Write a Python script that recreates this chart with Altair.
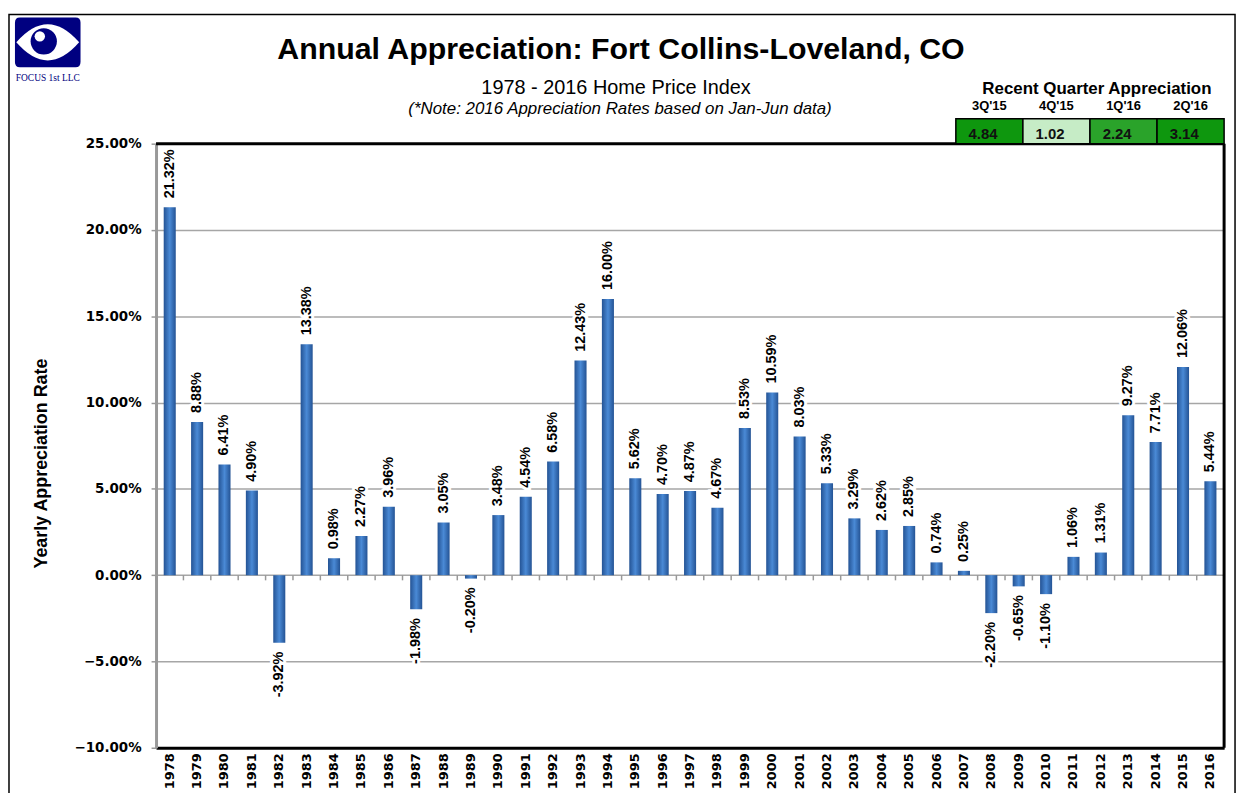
import altair as alt
import pandas as pd

# ---------------- data ----------------
years = ["1978", "1979", "1980", "1981", "1982", "1983", "1984", "1985", "1986", "1987",
         "1988", "1989", "1990", "1991", "1992", "1993", "1994", "1995", "1996", "1997",
         "1998", "1999", "2000", "2001", "2002", "2003", "2004", "2005", "2006", "2007",
         "2008", "2009", "2010", "2011", "2012", "2013", "2014", "2015", "2016"]
bar_values = [21.32, 8.88, 6.41, 4.90, -3.92, 13.38, 0.98, 2.27, 3.96, -1.98,
              3.05, -0.20, 3.48, 4.54, 6.58, 12.43, 16.00, 5.62, 4.70, 4.87,
              3.91, 8.53, 10.59, 8.03, 5.33, 3.29, 2.62, 2.85, 0.74, 0.25,
              -2.20, -0.65, -1.10, 1.06, 1.31, 9.27, 7.71, 12.06, 5.44]
bar_labels = ["21.32%", "8.88%", "6.41%", "4.90%", "-3.92%", "13.38%", "0.98%", "2.27%", "3.96%", "-1.98%",
              "3.05%", "-0.20%", "3.48%", "4.54%", "6.58%", "12.43%", "16.00%", "5.62%", "4.70%", "4.87%",
              "4.67%", "8.53%", "10.59%", "8.03%", "5.33%", "3.29%", "2.62%", "2.85%", "0.74%", "0.25%",
              "-2.20%", "-0.65%", "-1.10%", "1.06%", "1.31%", "9.27%", "7.71%", "12.06%", "5.44%"]
y_ticks = [-10, -5, 0, 5, 10, 15, 20, 25]

quarters = ["3Q'15", "4Q'15", "1Q'16", "2Q'16"]
quarter_values = [4.84, 1.02, 2.24, 3.14]

TITLE = "Annual Appreciation: Fort Collins-Loveland, CO"
SUBTITLE = "1978 - 2016 Home Price Index"
NOTE = "(*Note: 2016 Appreciation Rates based on Jan-Jun data)"
Y_TITLE = "Yearly Appreciation Rate"
TABLE_TITLE = "Recent Quarter Appreciation"
LOGO_TEXT = "FOCUS 1st LLC"

# ---------------- styles ----------------
quarter_colors = ["#0e970e", "#c6ecc6", "#2aa32a", "#0e970e"]
W, H = 1075, 608
STEP = W / 39.0
NAVY = "#000080"
FONT = "Liberation Sans"
AXFONT = "DejaVu Sans"

df = pd.DataFrame({"year": years, "value": bar_values, "label": bar_labels})
qdf = pd.DataFrame({"quarter": quarters, "value": quarter_values})
one = pd.DataFrame({"a": [0]})

bar_fill = alt.LinearGradient(
    gradient="linear", x1=0, x2=1, y1=0, y2=0,
    stops=[alt.GradientStop(offset=0, color="#245394"),
           alt.GradientStop(offset=0.5, color="#4a8ad6"),
           alt.GradientStop(offset=1, color="#245394")])

x_main = alt.X("year:O", sort=years,
               scale=alt.Scale(paddingInner=0.56, paddingOuter=0.28),
               axis=alt.Axis(orient="bottom", title=None, labelAngle=270,
                             labelFont=AXFONT, labelFontWeight="bold", labelFontSize=13,
                             labelColor="black", labelPadding=5, ticks=False,
                             domain=True, domainColor="black", domainWidth=3, grid=False))
x_plain = alt.X("year:O", sort=years)

y_main = alt.Y("value:Q", scale=alt.Scale(domain=[-10, 25], nice=False),
               axis=alt.Axis(title=None, values=y_ticks,
                             labelExpr="format(datum.value, '.2f') + '%'",
                             labelFont=AXFONT, labelFontWeight="bold", labelFontSize=13.5,
                             labelColor="black", labelPadding=10,
                             tickSize=5, tickColor="#999999", tickWidth=1.5,
                             domainColor="#999999", domainWidth=3,
                             grid=True, gridColor="#a6a6a6", gridWidth=1.5))

bars = alt.Chart(df).mark_bar(color=bar_fill).encode(x=x_main, y=y_main)

# small ticks hanging below the zero line, between the bars
zero_ticks = alt.Chart(df).mark_rule(
    color="#999999", strokeWidth=1.5, xOffset=-STEP / 2).encode(
    x=x_plain, y=alt.datum(0), y2=alt.datum(-0.3))

top_rule = alt.Chart(one).mark_rule(color="black", strokeWidth=3).encode(
    x=alt.value(0), x2=alt.value(W), y=alt.value(0))
right_rule = alt.Chart(one).mark_rule(color="black", strokeWidth=3).encode(
    x=alt.value(W), y=alt.value(0), y2=alt.value(H))

lab_style = dict(angle=270, baseline="middle", font=FONT, fontWeight="bold", fontSize=14.5)
pos_halo = alt.Chart(df).transform_filter("datum.value >= 0").mark_text(
    align="left", dx=9, color="white", stroke="white", strokeWidth=6, **lab_style).encode(
    x=x_plain, y="value:Q", text="label:N")
neg_halo = alt.Chart(df).transform_filter("datum.value < 0").mark_text(
    align="right", dx=-9, color="white", stroke="white", strokeWidth=6, **lab_style).encode(
    x=x_plain, y="value:Q", text="label:N")
pos_text = alt.Chart(df).transform_filter("datum.value >= 0").mark_text(
    align="left", dx=9, color="black", **lab_style).encode(
    x=x_plain, y="value:Q", text="label:N")
neg_text = alt.Chart(df).transform_filter("datum.value < 0").mark_text(
    align="right", dx=-9, color="black", **lab_style).encode(
    x=x_plain, y="value:Q", text="label:N")

main = alt.layer(bars, zero_ticks, top_rule, right_rule, pos_halo, neg_halo, pos_text, neg_text)

# recent quarter table
qx = alt.X("quarter:N", sort=quarters,
           scale=alt.Scale(domain=quarters, range=[805, W], paddingInner=0, paddingOuter=0),
           axis=None)
cells = alt.Chart(qdf).mark_rect(stroke="black", strokeWidth=1.5).encode(
    x=qx, y=alt.value(-25), y2=alt.value(0),
    color=alt.Color("quarter:N", scale=alt.Scale(domain=quarters, range=quarter_colors), legend=None))
cell_text = alt.Chart(qdf).mark_text(align="left", dx=-21, baseline="middle", font=FONT,
                                     fontWeight="bold", fontSize=15, color="#111111").encode(
    x=qx, y=alt.value(-10), text=alt.Text("value:Q", format=".2f"))
headers = alt.Chart(qdf).mark_text(baseline="middle", font=FONT, fontWeight="bold",
                                   fontSize=13, color="black").encode(
    x=qx, y=alt.value(-38), text="quarter:N")
table = alt.layer(cells, cell_text, headers)

def label(text, x, y, size, weight="normal", style="normal", angle=0, color="black", font=FONT, align="center"):
    return alt.Chart(pd.DataFrame({"t": [text]})).mark_text(
        align=align, baseline="middle", font=font, fontSize=size, fontWeight=weight,
        fontStyle=style, angle=angle, color=color).encode(
        x=alt.value(x), y=alt.value(y), text="t:N")

title = label(TITLE, 468, -94, 30.5, weight="bold")
subtitle = label(SUBTITLE, 463, -56, 20)
note = label(NOTE, 467, -35, 17, style="italic")
ytitle = label(Y_TITLE, -115, 322, 18, weight="bold", angle=270)
ttitle = label(TABLE_TITLE, 947, -55, 17, weight="bold")
logo_text = label(LOGO_TEXT, -109, -66, 9.5, color=NAVY, font="Liberation Serif")

# outer frame
frame = alt.Chart(one).mark_rect(fillOpacity=0, stroke="black", strokeWidth=1.5).encode(
    x=alt.value(-148), x2=alt.value(1086), y=alt.value(-130), y2=alt.value(720))

# logo
rr = "M-0.85,-0.76 L0.85,-0.76 Q1,-0.76 1,-0.6 L1,0.6 Q1,0.76 0.85,0.76 L-0.85,0.76 Q-1,0.76 -1,0.6 L-1,-0.6 Q-1,-0.76 -0.85,-0.76 Z"
almond = "M-1,0 Q0,-1.15 1,0 Q0,1.15 -1,0 Z"
logo_bg = alt.Chart(one).mark_point(shape=rr, filled=True, fill=NAVY, opacity=1, size=4356).encode(
    x=alt.value(-109), y=alt.value(-102))
logo_eye = alt.Chart(one).mark_point(shape=almond, filled=True, fill="white", opacity=1, size=4000).encode(
    x=alt.value(-109), y=alt.value(-102))
logo_iris = alt.Chart(one).mark_point(shape="circle", filled=True, fill=NAVY, opacity=1, size=700).encode(
    x=alt.value(-113), y=alt.value(-103))
logo_hl = alt.Chart(one).mark_point(shape="circle", filled=True, fill="white", opacity=1, size=110).encode(
    x=alt.value(-117), y=alt.value(-108))

chart = alt.layer(
    frame, main, table, title, subtitle, note, ytitle, ttitle,
    logo_bg, logo_eye, logo_iris, logo_hl, logo_text
).resolve_scale(x="independent").properties(
    width=W, height=H,
    autosize=alt.AutoSizeParams(type="none"),
    padding={"left": 149, "top": 134, "right": 16, "bottom": 43},
    background="white",
).configure_view(stroke=None)

chart.save("out.html", embed_options={"renderer": "svg", "actions": False})
